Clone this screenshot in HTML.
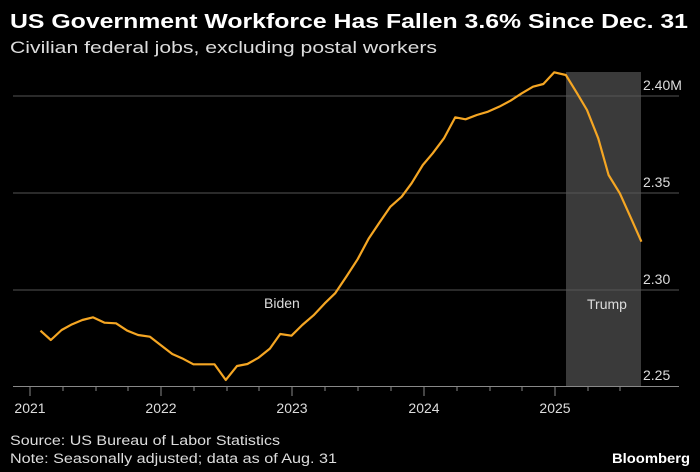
<!DOCTYPE html>
<html><head><meta charset="utf-8"><style>
html,body{margin:0;padding:0;background:#000;}
svg{display:block;}
text{font-family:"Liberation Sans",sans-serif;}
</style></head><body>
<svg width="700" height="472" viewBox="0 0 700 472" xmlns="http://www.w3.org/2000/svg">
<rect width="700" height="472" fill="#000"/>
<text x="10" y="28" font-size="20" font-weight="bold" fill="#fff" textLength="678" lengthAdjust="spacingAndGlyphs">US Government Workforce Has Fallen 3.6% Since Dec. 31</text>
<text x="10" y="53" font-size="17" fill="#ddd" textLength="427" lengthAdjust="spacingAndGlyphs">Civilian federal jobs, excluding postal workers</text>
<rect x="566" y="72" width="75" height="314" fill="#3a3a3a"/>
<g stroke="#555" stroke-width="1">
<line x1="13" y1="96" x2="679" y2="96"/>
<line x1="13" y1="193" x2="679" y2="193"/>
<line x1="13" y1="290" x2="679" y2="290"/>
</g>
<line x1="13" y1="386.5" x2="679" y2="386.5" stroke="#888" stroke-width="1"/>
<g stroke="#888" stroke-width="1">
<line x1="30" y1="386" x2="30" y2="396"/><line x1="161" y1="386" x2="161" y2="396"/><line x1="292" y1="386" x2="292" y2="396"/><line x1="424" y1="386" x2="424" y2="396"/><line x1="555" y1="386" x2="555" y2="396"/>
<line x1="63" y1="386" x2="63" y2="391"/><line x1="96" y1="386" x2="96" y2="391"/><line x1="128" y1="386" x2="128" y2="391"/>
<line x1="194" y1="386" x2="194" y2="391"/><line x1="227" y1="386" x2="227" y2="391"/><line x1="259" y1="386" x2="259" y2="391"/>
<line x1="325" y1="386" x2="325" y2="391"/><line x1="358" y1="386" x2="358" y2="391"/><line x1="391" y1="386" x2="391" y2="391"/>
<line x1="457" y1="386" x2="457" y2="391"/><line x1="490" y1="386" x2="490" y2="391"/><line x1="522" y1="386" x2="522" y2="391"/>
<line x1="588" y1="386" x2="588" y2="391"/><line x1="620" y1="386" x2="620" y2="391"/>
</g>
<g transform="translate(0,60) scale(0.4498,0.33333)">
<polyline fill="none" stroke="#f5a623" stroke-width="2.2" vector-effect="non-scaling-stroke" stroke-linejoin="round" points="90,812 113,840 137,810 160,793 183,780 207,772 232,788 258,790 283,812 307,825 333,830 357,855 383,882 405,895 430,913 477,913 502,960 527,918 550,912 575,893 600,866 623,822 648,827 672,795 697,766 722,730 745,700 770,650 795,598 820,535 845,485 868,440 893,410 915,370 940,315 962,280 987,235 1012,172 1035,178 1060,165 1085,155 1110,140 1135,122 1160,100 1185,80 1208,72 1232,37 1258,45 1283,100 1305,150 1330,235 1353,345 1378,400 1403,475 1426,545"/>
</g>
<g font-size="14" fill="#ddd">
<text x="643" y="90">2.40M</text>
<text x="643" y="187">2.35</text>
<text x="643" y="284">2.30</text>
<text x="643" y="380">2.25</text>
<text x="30" y="413" text-anchor="middle">2021</text>
<text x="161" y="413" text-anchor="middle">2022</text>
<text x="292" y="413" text-anchor="middle">2023</text>
<text x="424" y="413" text-anchor="middle">2024</text>
<text x="555" y="413" text-anchor="middle">2025</text>
<text x="264" y="308">Biden</text>
<text x="587" y="309">Trump</text>
</g>
<g font-size="13.5" fill="#ddd">
<text x="10" y="445" textLength="270" lengthAdjust="spacingAndGlyphs">Source: US Bureau of Labor Statistics</text>
<text x="10" y="463" textLength="327" lengthAdjust="spacingAndGlyphs">Note: Seasonally adjusted; data as of Aug. 31</text>
</g>
<text x="612" y="463" font-size="14" font-weight="bold" fill="#fff" textLength="78" lengthAdjust="spacingAndGlyphs">Bloomberg</text>
</svg>
</body></html>
